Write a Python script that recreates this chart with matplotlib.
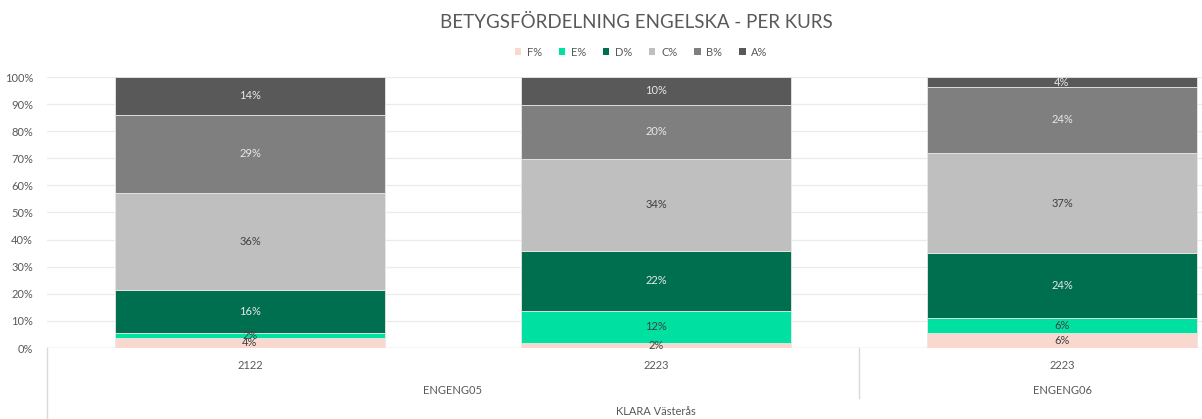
import matplotlib
matplotlib.use("Agg")
import matplotlib.pyplot as plt
import matplotlib.transforms as mtransforms
from matplotlib.lines import Line2D
from matplotlib.patches import Patch
import numpy as np

plt.rcParams['font.family'] = ['Lato', 'DejaVu Sans']

# ---- data ----
courses = ["ENGENG05", "ENGENG05", "ENGENG06"]
years = ["2122", "2223", "2223"]
school = "KLARA Västerås"
grades = ["F%", "E%", "D%", "C%", "B%", "A%"]
F_vals = [3.7, 1.8, 5.7]
E_vals = [1.8, 12.0, 5.5]
D_vals = [15.9, 22.0, 23.8]
C_vals = [35.8, 34.0, 37.0]
B_vals = [28.8, 20.0, 24.3]
A_vals = [14.0, 10.2, 3.7]
series = [F_vals, E_vals, D_vals, C_vals, B_vals, A_vals]
colors = ["#F8D8CF", "#00E0A0", "#006F4F", "#BFBFBF", "#7F7F7F", "#595959"]
label_colors = ["#404040", "#404040", "#E8E8E8", "#404040", "#E8E8E8", "#E8E8E8"]

W, H = 1202, 419
fig = plt.figure(figsize=(W / 100, H / 100), dpi=100)
ax = fig.add_axes([47 / W, (H - 348) / H, 1218 / W, (348 - 77) / H])

x = np.arange(len(years))
bottom = np.zeros(len(years))
for vals, col, lc, name in zip(series, colors, label_colors, grades):
    v = np.array(vals)
    ax.bar(x, v, width=0.665, bottom=bottom, color=col, edgecolor="#E8E8E8",
           linewidth=0.6, label=name, zorder=2)
    for xi, b, val in zip(x, bottom, v):
        ax.text(xi, b + val / 2, f"{round(val):.0f}%", ha="center", va="center",
                fontsize=8, color=lc, zorder=3)
    bottom += v

ax.set_xlim(-0.5, len(years) - 0.5)
ax.set_ylim(0, 100)
ax.set_yticks(np.arange(0, 101, 10))
ax.set_yticklabels([f"{t}%" for t in range(0, 101, 10)], fontsize=8, color="#595959")
ax.yaxis.grid(True, color="#EBEBEB", linewidth=0.9, zorder=0)
ax.set_axisbelow(True)
for s in ["top", "right", "left", "bottom"]:
    ax.spines[s].set_visible(False)
ax.tick_params(axis="y", length=0, pad=10)
ax.tick_params(axis="x", length=0)
ax.set_xticks([])

# baseline
ax.axhline(0, color="#D9D9D9", linewidth=1.0, zorder=1)

# multi-level category labels
bt = mtransforms.blended_transform_factory(ax.transData, fig.transFigure)
for xi, yr in zip(x, years):
    ax.text(xi, (H - 365) / H, yr, transform=bt, ha="center", va="center",
            fontsize=8, color="#595959")
uniq = []
for c in courses:
    if c not in uniq:
        uniq.append(c)
for c in uniq:
    idx = [i for i, cc in enumerate(courses) if cc == c]
    ax.text(np.mean(idx), (H - 390) / H, c, transform=bt, ha="center", va="center",
            fontsize=8, color="#595959")
ax.text(np.mean(x), (H - 411) / H, school, transform=bt, ha="center", va="center",
        fontsize=8, color="#595959")

# dividers
ax.add_line(Line2D([-0.5, -0.5], [(H - 348) / H, 0], transform=bt,
                   color="#D9D9D9", linewidth=1.0, clip_on=False))
for i in range(1, len(courses)):
    if courses[i] != courses[i - 1]:
        ax.add_line(Line2D([i - 0.5, i - 0.5], [(H - 348) / H, (H - 398) / H],
                           transform=bt, color="#D9D9D9", linewidth=1.0, clip_on=False))

# title
fig.text(636 / W, (H - 22) / H, "BETYGSFÖRDELNING ENGELSKA - PER KURS",
         ha="center", va="center", fontsize=13.5, color="#595959")

# legend
handles = [Patch(facecolor=c, edgecolor="none", label=g) for c, g in zip(colors, grades)]
fig.legend(handles=handles, loc="center", bbox_to_anchor=(641 / W, (H - 52) / H),
           ncol=6, frameon=False, fontsize=8, labelcolor="#595959",
           handlelength=0.6, handleheight=0.6, handletextpad=0.5, columnspacing=1.5)

fig.savefig("out.png", dpi=100)
